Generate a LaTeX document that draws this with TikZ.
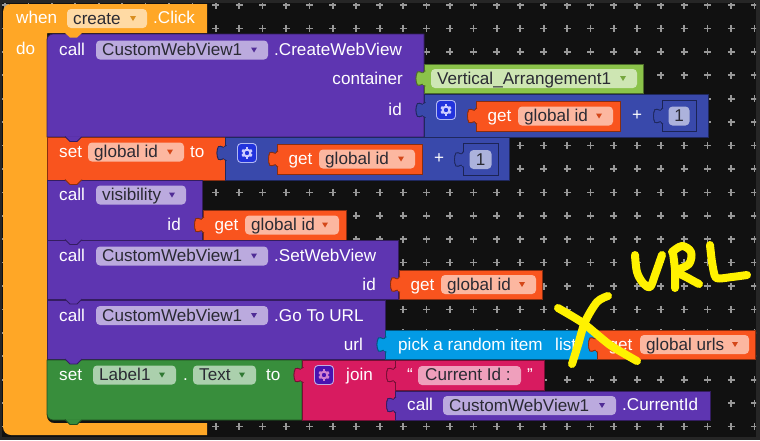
\documentclass[tikz,border=0pt]{standalone}
\usepackage{fontspec}
\setmainfont{Liberation Sans}
\definecolor{cbg}{HTML}{111111}
\definecolor{cstrip}{HTML}{262626}
\definecolor{cdot}{HTML}{989898}
\definecolor{cctl}{HTML}{FFA726}
\definecolor{cpur}{HTML}{5E35B1}
\definecolor{cred}{HTML}{F9541E}
\definecolor{cblu}{HTML}{3949AB}
\definecolor{cblud}{HTML}{1C2455}
\definecolor{clim}{HTML}{8BC34A}
\definecolor{ccya}{HTML}{039BE5}
\definecolor{cgrn}{HTML}{388E3C}
\definecolor{cpnk}{HTML}{D81B60}
\definecolor{cink}{HTML}{FFF200}
\definecolor{cfldtx}{HTML}{2A2A33}
\definecolor{cgbl}{HTML}{2233DD}
\definecolor{cgvi}{HTML}{4A12B0}
\definecolor{cgpk}{HTML}{D080D0}
\tikzset{
  x=1pt,y=-1pt,
  lbl/.style={anchor=base west,inner sep=0pt,text=white,font=\fontsize{17.1}{19}\selectfont},
  lblr/.style={lbl,anchor=base east},
  ftx/.style={lbl,text=cfldtx},
  blk/.style={fill=#1,draw=#1!55!black,line width=.8pt},
  ink/.style={draw=cink,line width=8pt,line cap=round,line join=round}
}
\newcounter{nn}
% text label, left aligned
\newcommand\tl[3]{\stepcounter{nn}\node[lbl] (t\thenn) at (#1,#2+5.5) {#3};}
\newcommand\tr[3]{\stepcounter{nn}\node[lblr] (t\thenn) at (#1,#2+5.5) {#3};}
% rectangular block
\newcommand\bk[5]{\path[blk=#5] (#1,#2) rectangle (#3,#4);}
% left puzzle tab: x, yc, colour
\newcommand\tabp[3]{\begin{scope}[shift={(#1,#2)}]
  \path[blk=#3] (1,-7.5) -- (0,-7.5) .. controls (-1,-3) and (-4,-8) .. (-7,-6.5)
     .. controls (-9,-3) and (-9,3) .. (-7,6.5) .. controls (-4,8) and (-1,3) .. (0,7.5) -- (1,7.5);
  \fill[#3] (-1.5,-6) rectangle (1.4,6);
\end{scope}}
% statement bump: y, colour
\newcommand\bump[2]{\begin{scope}[shift={(65,#1)}]
  \path[blk=#2] (0,-.5) -- (5,4.5) -- (12,4.5) -- (17,-.5);
  \fill[#2] (1,-1) -- (18,-1) -- (16,-.4) -- (1,-.4) -- cycle;
\end{scope}}
% field with dropdown: x1,x2,yc,text,colour
\newcommand\fld[5]{\begin{scope}[shift={(0,#3)}]
  \fill[#5!42!white,rounded corners=4pt] (#1,-9.5) rectangle (#2,9.5);
  \stepcounter{nn}\node[ftx,xshift=6pt] (t\thenn) at (#1,5.5) {#4};
  \begin{scope}[shift={(#2,0)}]
    \fill[#5!85!black] (-17,-2.5) -- (-11,-2.5) -- (-14,2.5) -- cycle;
  \end{scope}
\end{scope}}
% gear button
\newcommand\gearb[4]{\begin{scope}[shift={(#1,#2)}]
  \path[fill=#3,draw=white!65!#3,line width=.9pt,rounded corners=3.5pt] (-9.5,-9.5) rectangle (9.5,9.5);
  \draw[#4,line width=2pt] (0,0) circle (3.4);
  \foreach \a in {30,90,...,330}{\draw[#4,line width=2.6pt] (\a:3.6) -- (\a:5.6);}
\end{scope}}
% "get" block: x1,x2,y1,y2,field x1,field x2,name
\newcommand\getb[7]{\pgfmathsetmacro\yc{(#3+#4)/2}\tabp{#1}{\yc}{cred}
  \bk{#1}{#3}{#2}{#4}{cred}
  \tabp{#1}{\yc}{cred}
  \tl{#1+11.5}{\yc}{get}
  \fld{#5}{#6}{\yc}{#7}{cred}}
% number block
\newcommand\numb[4]{\tabp{#1}{#3}{cblu}
  \path[blk=cblu,draw=cblud] (#1,#3-16) rectangle (#2,#3+15.5);
  \tabp{#1}{#3}{cblu}
  \fill[cblu!42!white,rounded corners=4pt] (#1+6.5,#3-9.5) rectangle (#2-6.5,#3+9.5);
  \stepcounter{nn}\node[ftx,anchor=base] (t\thenn) at (#1/2+#2/2,#3+5.5) {#4};}
\begin{document}
\begin{tikzpicture}
\useasboundingbox (0,0) rectangle (760,440);
\fill[cstrip] (0,0) rectangle (760,440);
\fill[cbg] (2,3) rectangle (756,437);
% workspace grid
\begin{scope}
\clip (2,3) rectangle (756,437);
\foreach \i in {0,...,32}{\foreach \j in {0,...,18}{
  \draw[cdot,line width=1.7pt] (5+23.42*\i-3.5,5+23.42*\j) -- (5+23.42*\i+3.5,5+23.42*\j)
     (5+23.42*\i,5+23.42*\j-3.5) -- (5+23.42*\i,5+23.42*\j+3.5);
}}
\end{scope}
% event block
\fill[cctl] (100,4) [rounded corners=8pt] -- (3,4) -- (3,435) [sharp corners] -- (207,435)
  -- (207,423) [rounded corners=7pt] -- (47,423) [sharp corners] -- (47,33)
  -- (207,33) -- (207,4) -- cycle;
\tl{16}{18}{when}
\fld{67}{147}{18.5}{create}{cctl}
\tl{153}{18}{.Click}
\tl{16}{48.5}{do}
% CreateWebView
\path[blk=cpur] (424,34) [rounded corners=6pt] -- (47,34) [sharp corners] -- (47,137) -- (424,137) -- cycle;
\fill[cctl] (65,33) -- (82,33) -- (77,37.5) -- (70,37.5) -- cycle;
\tl{59}{50}{call}
\fld{96}{268}{50}{CustomWebView1}{cpur}
\tl{274}{50}{.CreateWebView}
\tr{403}{78.5}{container}
\tr{402}{110}{id}
% Vertical arrangement
\tabp{424.5}{78.5}{clim}
\bk{424.5}{64}{643}{93}{clim}
\tabp{424.5}{78.5}{clim}
\fld{431}{637}{78.5}{Vertical\_Arrangement1}{clim}
% id + 1
\tabp{424.5}{110}{cblu}
\bk{424.5}{94}{708}{137}{cblu}
\tabp{424.5}{110}{cblu}
\gearb{446}{110}{cgbl}{white!80!blue}
\getb{476}{620}{101}{131}{518}{613}{global id}
\tl{632}{115}{+}
\numb{662}{696}{116}{1}
% set global id
\bk{47}{137}{225}{180}{cred}
\tl{59}{152}{set}
\fld{88}{184}{152}{global id}{cred}
\tl{190}{152}{to}
\tabp{225.5}{153}{cblu}
\bk{225.5}{137}{509}{180}{cblu}
\tabp{225.5}{153}{cblu}
\gearb{247}{153}{cgbl}{white!80!blue}
\getb{277}{422}{144}{174}{319}{415}{global id}
\tl{434}{158}{+}
\numb{463}{498}{159.5}{1}
\bump{137}{cpur}
% visibility
\bk{47}{180}{202}{240}{cpur}
\tl{59}{195}{call}
\fld{96}{186}{195}{visibility}{cpur}
\tr{181}{225}{id}
\getb{203}{346}{210}{240}{245}{339}{global id}
\bump{180}{cred}
% SetWebView
\bk{47}{240}{398}{299}{cpur}
\tl{59}{256}{call}
\fld{96}{268}{256}{CustomWebView1}{cpur}
\tl{274}{256}{.SetWebView}
\tr{376}{285}{id}
\getb{399}{542}{270}{299}{441}{536}{global id}
\bump{240}{cpur}
% Go To URL
\bk{47}{300}{385}{359}{cpur}
\tl{59}{315.5}{call}
\fld{96}{268}{315.5}{CustomWebView1}{cpur}
\tl{274}{315.5}{.Go To URL}
\tr{363}{344.5}{url}
\tabp{385.5}{344.5}{ccya}
\bk{385.5}{330}{597}{359}{ccya}
\tabp{385.5}{344.5}{ccya}
\tl{398}{344.5}{pick a random item}
\tl{555}{344.5}{list}
\getb{597}{755}{330}{359}{640}{749}{global urls}
\bump{299.5}{cpur}
% set Label1.Text
\path[blk=cgrn] (302,360) -- (47,360) [rounded corners=6pt] -- (47,420) [sharp corners] -- (302,420) -- cycle;
\tl{59}{375}{set}
\fld{93}{176}{375}{Label1}{cgrn}
\tl{183}{375}{.}
\fld{193}{256}{375}{Text}{cgrn}
\tl{266}{375}{to}
% join
\tabp{302.5}{375}{cpnk}
\bk{302.5}{360}{395}{420}{cpnk}
\tabp{302.5}{375}{cpnk}
\gearb{324}{375}{cgvi}{cgpk}
\tl{346}{375}{join}
% text string
\tabp{395}{375}{cpnk}
\bk{395}{360}{544}{390}{cpnk}
\tabp{395}{375}{cpnk}
\stepcounter{nn}\node[lbl] (t\thenn) at (407,375+5.5) {“};
\fill[cpnk!42!white,rounded corners=4pt] (418,366) rectangle (521,385);
\stepcounter{nn}\node[ftx] (t\thenn) at (425,375+5.5) {Current Id :};
\stepcounter{nn}\node[lbl] (t\thenn) at (527,375+5.5) {”};
% current id
\tabp{395}{405}{cpur}
\bk{395}{391}{710}{420}{cpur}
\tabp{395}{405}{cpur}
\tl{407}{405}{call}
\fld{443}{616}{405.5}{CustomWebView1}{cpur}
\tl{622}{405}{.CurrentId}
\bump{359.5}{cpur}
\bump{420}{cgrn}
% handwriting
\draw[ink] plot[smooth,tension=.55] coordinates {(635,255) (637,272) (643,283) (650,287) (655,275) (662,255)};
\draw[ink] plot[smooth,tension=.4] coordinates {(673,253) (675,270) (675,288)};
\draw[ink] plot[smooth,tension=.6] coordinates {(672,252) (682,246) (691,252) (689,264) (677,271) (688,278) (699,284)};
\draw[ink] plot[smooth,tension=.35] coordinates {(710,245) (712,262) (716,278) (732,277) (747,275)};
\draw[ink] plot[smooth,tension=.4] coordinates {(558,308) (583,323) (610,345) (637,361)};
\draw[ink] plot[smooth,tension=.5] coordinates {(608,296) (597,302) (585,322) (578,345) (572,364)};
\end{tikzpicture}
\end{document}
